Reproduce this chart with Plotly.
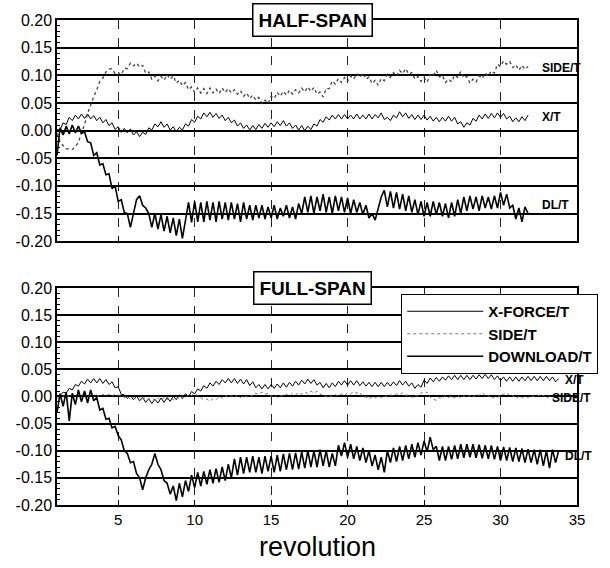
import numpy as np
import plotly.graph_objects as go

# sampling of the digitised records (revolutions)
REV_START = 1.0
REV_STEP = 0.2

# ---------------- HALF-SPAN ----------------
half_x_force = [
    0.002, 0.001, 0.014, 0.011, 0.024, 0.018, 0.028, 0.021, 0.030, 0.022,
    0.030, 0.021, 0.027, 0.018, 0.024, 0.014, 0.020, 0.009, 0.014, 0.002,
    0.007, -0.003, 0.004, -0.004, 0.003, -0.008, -0.002, -0.011, -0.003, -0.007,
    0.005, 0.001, 0.012, 0.007, 0.016, 0.006, 0.012, 0.001, 0.007, -0.002,
    0.006, 0.001, 0.012, 0.008, 0.020, 0.015, 0.026, 0.021, 0.032, 0.025,
    0.033, 0.024, 0.031, 0.022, 0.028, 0.018, 0.024, 0.014, 0.019, 0.008,
    0.014, 0.004, 0.010, 0.001, 0.009, 0.002, 0.011, 0.004, 0.013, 0.006,
    0.014, 0.007, 0.016, 0.009, 0.018, 0.008, 0.014, 0.004, 0.010, 0.001,
    0.009, 0.000, 0.008, 0.002, 0.012, 0.008, 0.020, 0.015, 0.025, 0.019,
    0.028, 0.021, 0.029, 0.021, 0.029, 0.021, 0.028, 0.021, 0.030, 0.021,
    0.028, 0.021, 0.030, 0.021, 0.029, 0.023, 0.032, 0.020, 0.024, 0.018,
    0.028, 0.023, 0.034, 0.025, 0.032, 0.022, 0.029, 0.020, 0.028, 0.020,
    0.028, 0.019, 0.026, 0.017, 0.024, 0.016, 0.024, 0.017, 0.026, 0.017,
    0.024, 0.012, 0.016, 0.006, 0.014, 0.010, 0.022, 0.017, 0.028, 0.021,
    0.030, 0.022, 0.031, 0.023, 0.032, 0.024, 0.031, 0.021, 0.026, 0.016,
    0.023, 0.016, 0.025, 0.018, 0.028,
]
half_side = [
    -0.005, -0.021, -0.027, -0.033, -0.033, -0.034, -0.029, -0.021, -0.004, 0.011,
    0.031, 0.047, 0.061, 0.074, 0.089, 0.095, 0.106, 0.111, 0.112, 0.103,
    0.105, 0.101, 0.113, 0.112, 0.122, 0.117, 0.122, 0.115, 0.118, 0.104,
    0.106, 0.093, 0.099, 0.090, 0.098, 0.091, 0.101, 0.093, 0.099, 0.086,
    0.091, 0.081, 0.087, 0.074, 0.079, 0.069, 0.077, 0.068, 0.076, 0.067,
    0.077, 0.068, 0.075, 0.067, 0.077, 0.069, 0.076, 0.068, 0.074, 0.066,
    0.072, 0.062, 0.068, 0.058, 0.064, 0.055, 0.060, 0.049, 0.055, 0.049,
    0.062, 0.058, 0.069, 0.062, 0.071, 0.064, 0.073, 0.066, 0.074, 0.068,
    0.077, 0.070, 0.079, 0.071, 0.078, 0.066, 0.070, 0.061, 0.076, 0.076,
    0.090, 0.084, 0.094, 0.087, 0.096, 0.089, 0.099, 0.093, 0.103, 0.096,
    0.104, 0.093, 0.097, 0.085, 0.091, 0.082, 0.094, 0.090, 0.102, 0.096,
    0.105, 0.099, 0.109, 0.103, 0.112, 0.102, 0.105, 0.093, 0.098, 0.089,
    0.096, 0.088, 0.101, 0.098, 0.109, 0.097, 0.100, 0.087, 0.093, 0.088,
    0.100, 0.096, 0.107, 0.095, 0.098, 0.086, 0.093, 0.088, 0.099, 0.094,
    0.104, 0.098, 0.108, 0.104, 0.120, 0.116, 0.126, 0.120, 0.125, 0.114,
    0.119, 0.109, 0.118, 0.111, 0.116,
]
half_download = [
    -0.045, 0.005, -0.008, 0.008, -0.006, 0.010, -0.004, 0.008, -0.005, -0.002,
    -0.020, -0.022, -0.045, -0.040, -0.062, -0.060, -0.080, -0.078, -0.105, -0.100,
    -0.128, -0.125, -0.148, -0.150, -0.175, -0.150, -0.125, -0.118, -0.135, -0.140,
    -0.150, -0.175, -0.150, -0.178, -0.152, -0.182, -0.155, -0.185, -0.158, -0.190,
    -0.160, -0.195, -0.165, -0.130, -0.166, -0.128, -0.165, -0.130, -0.165, -0.128,
    -0.162, -0.130, -0.165, -0.128, -0.160, -0.130, -0.162, -0.130, -0.160, -0.132,
    -0.165, -0.130, -0.160, -0.135, -0.162, -0.135, -0.158, -0.135, -0.160, -0.138,
    -0.158, -0.135, -0.160, -0.140, -0.155, -0.135, -0.158, -0.138, -0.160, -0.132,
    -0.150, -0.120, -0.148, -0.118, -0.150, -0.120, -0.145, -0.115, -0.148, -0.120,
    -0.150, -0.118, -0.145, -0.120, -0.148, -0.122, -0.150, -0.125, -0.148, -0.130,
    -0.152, -0.135, -0.158, -0.150, -0.162, -0.140, -0.120, -0.108, -0.138, -0.110,
    -0.140, -0.112, -0.142, -0.115, -0.145, -0.118, -0.148, -0.125, -0.152, -0.128,
    -0.155, -0.130, -0.155, -0.128, -0.152, -0.130, -0.155, -0.132, -0.158, -0.130,
    -0.155, -0.125, -0.150, -0.120, -0.145, -0.118, -0.142, -0.120, -0.145, -0.118,
    -0.140, -0.120, -0.142, -0.118, -0.140, -0.112, -0.135, -0.115, -0.140, -0.135,
    -0.160, -0.140, -0.165, -0.138, -0.150,
]

# ---------------- FULL-SPAN ----------------
full_x_force = [
    0.000, 0.002, 0.008, 0.006, 0.015, 0.012, 0.022, 0.019, 0.028, 0.023,
    0.032, 0.025, 0.033, 0.025, 0.033, 0.024, 0.031, 0.022, 0.027, 0.016,
    0.018, 0.004, 0.003, -0.004, 0.002, -0.006, 0.001, -0.008, -0.002, -0.011,
    -0.004, -0.013, -0.005, -0.012, -0.003, -0.011, -0.002, -0.009, 0.001, -0.006,
    0.003, -0.004, 0.005, 0.000, 0.009, 0.005, 0.014, 0.010, 0.020, 0.015,
    0.025, 0.019, 0.028, 0.022, 0.031, 0.025, 0.033, 0.025, 0.033, 0.024,
    0.032, 0.023, 0.031, 0.020, 0.027, 0.016, 0.022, 0.014, 0.022, 0.014,
    0.022, 0.015, 0.023, 0.016, 0.025, 0.017, 0.026, 0.019, 0.028, 0.021,
    0.030, 0.023, 0.032, 0.024, 0.031, 0.021, 0.026, 0.016, 0.024, 0.016,
    0.025, 0.018, 0.028, 0.021, 0.029, 0.021, 0.029, 0.021, 0.029, 0.020,
    0.027, 0.019, 0.026, 0.018, 0.026, 0.018, 0.026, 0.018, 0.026, 0.019,
    0.027, 0.020, 0.029, 0.021, 0.028, 0.019, 0.025, 0.015, 0.022, 0.017,
    0.030, 0.024, 0.034, 0.027, 0.035, 0.028, 0.036, 0.030, 0.038, 0.031,
    0.039, 0.031, 0.039, 0.031, 0.039, 0.031, 0.039, 0.032, 0.040, 0.033,
    0.041, 0.033, 0.040, 0.031, 0.038, 0.029, 0.036, 0.028, 0.036, 0.028,
    0.036, 0.028, 0.036, 0.029, 0.037, 0.029, 0.037, 0.029, 0.037, 0.029,
    0.037, 0.029, 0.036, 0.027, 0.033,
]
full_side = [
    -0.004, 0.002, -0.001, 0.003, 0.000, 0.004, 0.000, 0.003, -0.001, 0.002,
    -0.002, 0.002, -0.001, 0.003, 0.000, 0.004, 0.001, 0.004, 0.001, 0.004,
    0.002, 0.003, -0.002, 0.000, -0.005, -0.002, -0.006, -0.002, -0.006, -0.002,
    -0.006, -0.002, -0.007, -0.003, -0.007, -0.002, -0.006, -0.002, -0.006, -0.001,
    -0.005, 0.000, -0.003, 0.003, 0.002, 0.006, 0.001, -0.002, -0.006, -0.005,
    -0.009, -0.004, -0.006, 0.000, -0.003, 0.002, -0.002, 0.002, -0.002, 0.002,
    -0.002, 0.002, -0.001, 0.003, 0.001, 0.006, 0.004, 0.008, 0.004, 0.006,
    0.000, 0.002, -0.002, 0.002, 0.000, 0.004, 0.001, 0.006, 0.003, 0.007,
    0.004, 0.008, 0.005, 0.010, 0.006, 0.010, 0.004, 0.004, -0.001, 0.002,
    -0.001, 0.003, 0.001, 0.005, 0.002, 0.007, 0.005, 0.009, 0.006, 0.008,
    -0.001, -0.001, -0.005, -0.001, -0.003, 0.001, -0.002, 0.002, -0.001, 0.003,
    0.001, 0.005, 0.003, 0.007, 0.002, 0.003, -0.002, 0.002, 0.001, 0.007,
    0.006, 0.008, -0.002, -0.004, -0.008, -0.002, -0.004, 0.002, -0.002, 0.001,
    -0.003, 0.001, -0.003, 0.001, -0.002, 0.002, -0.001, 0.004, 0.002, 0.007,
    0.002, 0.002, -0.004, -0.001, -0.003, 0.004, 0.004, 0.007, 0.001, 0.002,
    -0.004, 0.000, -0.003, 0.001, -0.002, 0.002, -0.001, 0.003, 0.000, 0.002,
    -0.003, 0.000, -0.004, -0.001, -0.004,
]
full_download = [
    -0.030, 0.005, -0.018, 0.008, -0.045, 0.006, -0.015, 0.012, -0.010, 0.010,
    -0.012, 0.012, -0.008, -0.002, -0.025, -0.022, -0.042, -0.040, -0.058, -0.055,
    -0.072, -0.080, -0.100, -0.105, -0.122, -0.120, -0.142, -0.150, -0.172, -0.150,
    -0.135, -0.125, -0.105, -0.125, -0.135, -0.155, -0.160, -0.180, -0.165, -0.192,
    -0.160, -0.185, -0.155, -0.175, -0.145, -0.168, -0.140, -0.165, -0.138, -0.162,
    -0.135, -0.160, -0.133, -0.158, -0.130, -0.155, -0.125, -0.150, -0.115, -0.145,
    -0.112, -0.142, -0.112, -0.140, -0.110, -0.140, -0.112, -0.142, -0.110, -0.138,
    -0.110, -0.140, -0.108, -0.138, -0.106, -0.135, -0.105, -0.135, -0.104, -0.134,
    -0.102, -0.132, -0.100, -0.130, -0.100, -0.130, -0.098, -0.128, -0.100, -0.130,
    -0.105, -0.128, -0.090, -0.110, -0.085, -0.112, -0.088, -0.115, -0.092, -0.118,
    -0.095, -0.122, -0.100, -0.128, -0.108, -0.135, -0.112, -0.140, -0.100, -0.122,
    -0.095, -0.120, -0.092, -0.118, -0.090, -0.115, -0.088, -0.112, -0.085, -0.108,
    -0.082, -0.102, -0.075, -0.098, -0.092, -0.118, -0.092, -0.118, -0.092, -0.116,
    -0.090, -0.115, -0.088, -0.113, -0.088, -0.112, -0.088, -0.113, -0.089, -0.114,
    -0.090, -0.115, -0.090, -0.116, -0.092, -0.118, -0.093, -0.118, -0.094, -0.120,
    -0.095, -0.120, -0.096, -0.122, -0.097, -0.122, -0.098, -0.125, -0.098, -0.128,
    -0.100, -0.132, -0.098, -0.122, -0.100,
]

y_tick_vals = [-0.20, -0.15, -0.10, -0.05, 0.00, 0.05, 0.10, 0.15, 0.20]
y_tick_text = ["-0.20", "-0.15", "-0.10", "-0.05", "0.00", "0.05", "0.10", "0.15", "0.20"]
x_tick_vals = [5, 10, 15, 20, 25, 30, 35]
x_tick_text = ["5", "10", "15", "20", "25", "30", "35"]


def revs(values):
    return np.round(REV_START + REV_STEP * np.arange(len(values)), 2)


FONT = "Liberation Sans, Arial, sans-serif"
fig = go.Figure()

styles = {
    "x": dict(color="black", width=1.0),
    "side_top": dict(color="#444444", width=1.3, dash="dot"),
    "side_bot": dict(color="#777777", width=1.0, dash="dot"),
    "dl": dict(color="black", width=1.6),
}

# top panel
fig.add_trace(go.Scatter(x=revs(half_x_force), y=half_x_force, mode="lines",
                         line=styles["x"], showlegend=False, xaxis="x", yaxis="y"))
fig.add_trace(go.Scatter(x=revs(half_side), y=half_side, mode="lines",
                         line=styles["side_top"], showlegend=False, xaxis="x", yaxis="y"))
fig.add_trace(go.Scatter(x=revs(half_download), y=half_download, mode="lines",
                         line=styles["dl"], showlegend=False, xaxis="x", yaxis="y"))
# bottom panel
fig.add_trace(go.Scatter(x=revs(full_x_force), y=full_x_force, mode="lines", name="X-FORCE/T",
                         line=styles["x"], xaxis="x2", yaxis="y2"))
fig.add_trace(go.Scatter(x=revs(full_side), y=full_side, mode="lines", name="SIDE/T",
                         line=styles["side_bot"], xaxis="x2", yaxis="y2"))
fig.add_trace(go.Scatter(x=revs(full_download), y=full_download, mode="lines", name="DOWNLOAD/T",
                         line=styles["dl"], xaxis="x2", yaxis="y2"))

xcommon = dict(range=[1, 35], tickvals=x_tick_vals, ticktext=x_tick_text,
               showgrid=True, gridcolor="#222222", gridwidth=1, griddash="dash",
               showline=True, mirror=True, linecolor="black", linewidth=1.5,
               ticks="inside", ticklen=5, tickcolor="black", zeroline=False,
               tickfont=dict(size=15, color="black", family=FONT))
ycommon = dict(range=[-0.2, 0.2], tickvals=y_tick_vals, ticktext=y_tick_text,
               showgrid=True, gridcolor="black", gridwidth=1.5,
               showline=True, mirror=True, linecolor="black", linewidth=1.5,
               ticks="inside", ticklen=6, tickcolor="black", zeroline=False,
               minor=dict(ticks="inside", dtick=0.01, ticklen=3, tickcolor="black", showgrid=False),
               tickfont=dict(size=16, color="black", family=FONT))

fig.update_layout(
    width=610, height=568, autosize=False,
    margin=dict(l=57, r=18, t=18, b=63),
    paper_bgcolor="white", plot_bgcolor="white",
    font=dict(family=FONT, color="black"),
    xaxis=dict(xcommon, anchor="y", domain=[0, 1], showticklabels=False),
    yaxis=dict(ycommon, anchor="x", domain=[0.544, 1.0]),
    xaxis2=dict(xcommon, anchor="y2", domain=[0, 1], showticklabels=True),
    yaxis2=dict(ycommon, anchor="x2", domain=[0.0, 0.4476]),
    legend=dict(x=0.662, y=0.435, xanchor="left", yanchor="top",
                bordercolor="black", borderwidth=1, bgcolor="white",
                font=dict(size=15, family=FONT, color="black", weight="bold"),
                itemwidth=76, tracegroupgap=0),
    showlegend=True,
)

box = dict(showarrow=False, bordercolor="black", borderwidth=1.5, bgcolor="white",
           borderpad=5, font=dict(size=19, family=FONT, color="black"))
fig.add_annotation(dict(box, text="<b>HALF-SPAN</b>", xref="paper", yref="paper",
                        x=0.492, y=1.0, xanchor="center", yanchor="middle"))
fig.add_annotation(dict(box, text="<b>FULL-SPAN</b>", xref="paper", yref="paper",
                        x=0.492, y=0.4476, xanchor="center", yanchor="middle"))

lab = dict(showarrow=False, yanchor="middle",
           font=dict(size=12, family=FONT, color="black"))
fig.add_annotation(dict(lab, text="<b>SIDE/T</b>", xref="x", yref="y", x=32.6, y=0.113, xanchor="left"))
fig.add_annotation(dict(lab, text="<b>X/T</b>", xref="x", yref="y", x=32.6, y=0.024, xanchor="left"))
fig.add_annotation(dict(lab, text="<b>DL/T</b>", xref="x", yref="y", x=32.6, y=-0.134, xanchor="left"))
fig.add_annotation(dict(lab, text="<b>X/T</b>", xref="x2", yref="y2", x=34.1, y=0.030, xanchor="left"))
fig.add_annotation(dict(lab, text="<b>SIDE/T</b>", xref="paper", yref="y2", x=1.0305, y=-0.003,
                        xanchor="right"))
fig.add_annotation(dict(lab, text="<b>DL/T</b>", xref="x2", yref="y2", x=34.1, y=-0.110, xanchor="left"))

fig.add_annotation(text="revolution", xref="paper", yref="paper", x=0.5, y=0,
                   xanchor="center", yanchor="top", yshift=-25, showarrow=False,
                   font=dict(size=27, family=FONT, color="black"))

fig.write_html("out.html")
